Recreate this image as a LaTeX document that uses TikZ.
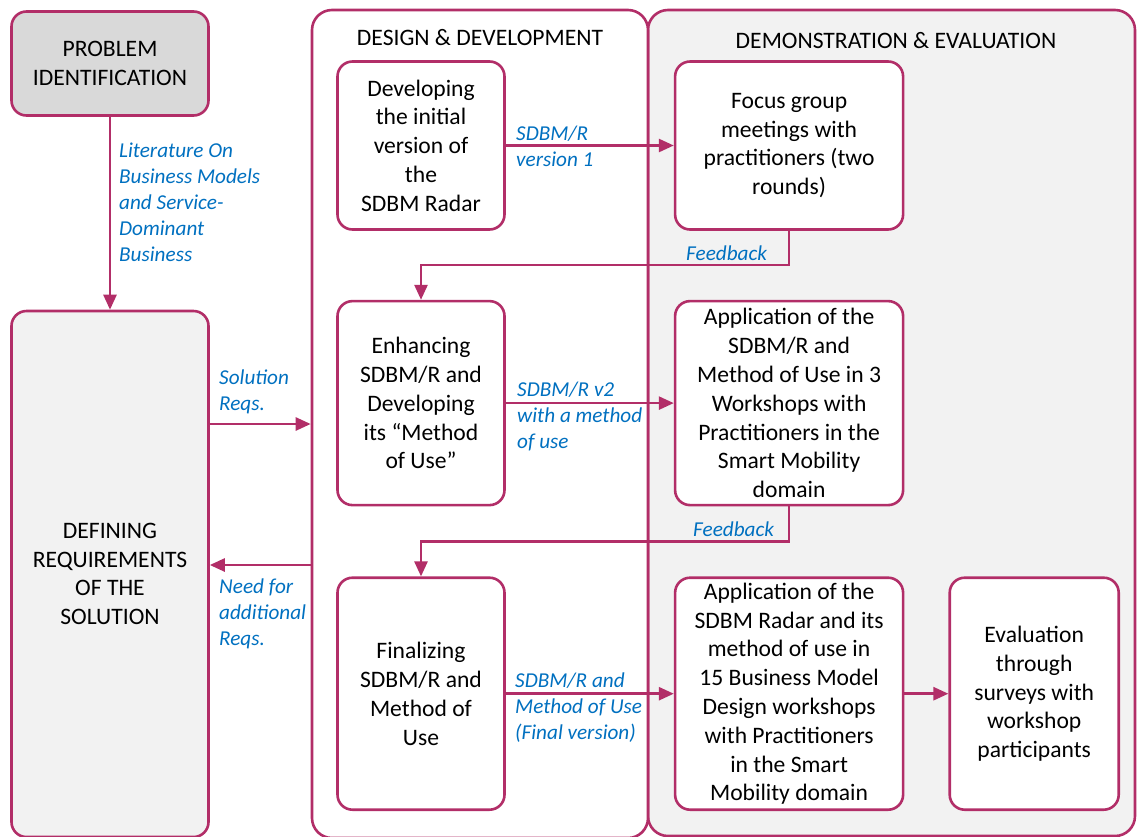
\documentclass[tikz,border=0pt]{standalone}
\usepackage{fontspec}
\setmainfont{Carlito}
\usepackage{tikz}
\usetikzlibrary{arrows.meta, positioning, calc}

\definecolor{berry}{RGB}{178,46,104}
\definecolor{linkblue}{RGB}{0,112,192}
\definecolor{panelgray}{RGB}{242,242,242}
\definecolor{headgray}{RGB}{217,217,217}

\tikzset{
	stepbox/.style={draw=berry, line width=2.6pt, rounded corners=15pt, fill=white, align=center, inner sep=2pt, font=\fontsize{23.6pt}{28.8pt}\selectfont},
	lane/.style={draw=berry, line width=2.6pt, rounded corners=20pt, inner sep=0pt},
	flow/.style={draw=berry, line width=2.6pt, -{Triangle[length=15pt,width=13pt]}},
	note/.style={text=linkblue, align=left, inner sep=0pt, anchor=west, font=\fontsize{21.2pt}{26pt}\selectfont\itshape},
	heading/.style={inner sep=0pt, font=\fontsize{23.6pt}{28.8pt}\selectfont}
}

\begin{document}
\begin{tikzpicture}[x=1pt, y=-1pt, node distance=69pt and 168pt]
		\useasboundingbox (0,0) rectangle (1137,836);
		\clip (0,0) rectangle (1137,836);
		% the two lanes
		\node[lane, fill=panelgray, minimum width=487pt, minimum height=826pt] (demo) at (891.5,423) {};
		\node[lane, fill=white, minimum width=336pt, minimum height=828pt] (dev) at (480,424) {};
		\node[heading] (devtitle) at (480,38) {DESIGN \& DEVELOPMENT};
		\node[heading] (demotitle) at (896,41) {DEMONSTRATION \& EVALUATION};
		% left column
		\node[stepbox, fill=headgray, minimum width=197pt, minimum height=104pt] (problem) at (110,63.5) {PROBLEM\\IDENTIFICATION};
		\node[stepbox, fill=panelgray, minimum width=197pt, minimum height=526pt] (reqs) at (110,574) {DEFINING\\REQUIREMENTS\\OF THE\\SOLUTION};
		% design steps
		\node[stepbox, minimum width=167pt, minimum height=168pt] (initial) at (421,145.5) {Developing\\the initial\\version of\\the\\SDBM Radar};
		\node[stepbox, minimum width=167pt, minimum height=204pt, below=of initial] (enhance) {Enhancing\\SDBM/R and\\Developing\\its “Method\\of Use”};
		\node[stepbox, minimum width=167pt, minimum height=232pt, below=70pt of enhance] (final) {Finalizing\\SDBM/R and\\Method of\\Use};
		% evaluation steps
		\node[stepbox, minimum width=228pt, minimum height=168pt, right=of initial] (focus) {Focus group\\meetings with\\practitioners (two\\rounds)};
		\node[stepbox, minimum width=228pt, minimum height=204pt, below=of focus] (pilot) {Application of the\\SDBM/R and\\Method of Use in 3\\Workshops with\\Practitioners in the\\Smart Mobility\\domain};
		\node[stepbox, minimum width=228pt, minimum height=232pt, below=70pt of pilot] (workshops) {Application of the\\SDBM Radar and its\\method of use in\\15 Business Model\\Design workshops\\with Practitioners\\in the Smart\\Mobility domain};
		\node[stepbox, minimum width=169pt, minimum height=232pt, right=44pt of workshops] (survey) {Evaluation\\through\\surveys with\\workshop\\participants};
		% connectors
		\coordinate (solreq) at (0,424);
		\coordinate (morereq) at (0,565);
		\foreach \from/\to in {problem/reqs,initial/focus,enhance/pilot,final/workshops,workshops/survey}
			\draw[flow] (\from) -- (\to);
		\draw[flow] (focus.south) -- ++(0,34) -| (enhance.north);
		\draw[flow] (pilot.south) -- ++(0,35) -| (final.north);
		\draw[flow] (reqs.east |- solreq) -- (dev.west |- solreq);
		\draw[flow] (dev.west |- morereq) -- (reqs.east |- morereq);
		% labels
		\node[note] (litlabel) at (119,202) {Literature On\\Business Models\\and Service-\\Dominant\\Business};
		\node[note] (sollabel) at (219,392) {Solution\\Reqs.};
		\node[note] (morelabel) at (219,614) {Need for\\additional\\Reqs.};
		\node[note] (v1label) at (516,146.5) {SDBM/R\\version 1};
		\node[note] (v2label) at (517,416) {SDBM/R v2\\with a method\\of use};
		\node[note] (v3label) at (515,708) {SDBM/R and\\Method of Use\\(Final version)};
		\node[note] (fb1label) at (686,253) {Feedback};
		\node[note] (fb2label) at (693,529) {Feedback};
	\end{tikzpicture}
\end{document}
